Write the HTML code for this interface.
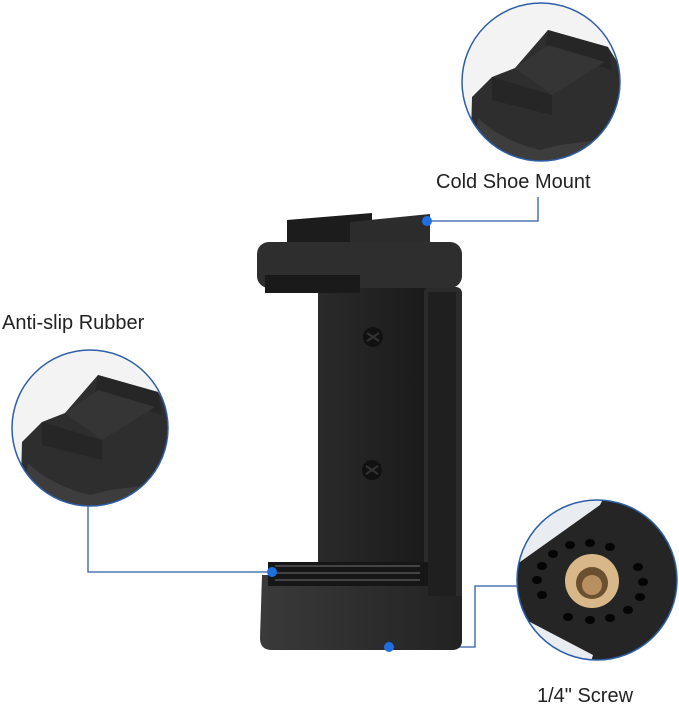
<!DOCTYPE html>
<html><head><style>
body{margin:0;background:#fff;}
svg{display:block}
text{font-family:"Liberation Sans",sans-serif;font-size:20px;fill:#222}
</style></head><body>
<svg width="679" height="710" viewBox="0 0 679 710">
<defs>
<linearGradient id="g1" x1="0" x2="1"><stop offset="0" stop-color="#2a2a2a"/><stop offset="1" stop-color="#1a1a1a"/></linearGradient>
<linearGradient id="g2" x1="0" x2="1"><stop offset="0" stop-color="#3a3a3a"/><stop offset="1" stop-color="#222"/></linearGradient>
<clipPath id="c1"><circle cx="541" cy="82" r="79"/></clipPath>
<clipPath id="c2"><circle cx="90" cy="428" r="78"/></clipPath>
<clipPath id="c3"><circle cx="597" cy="580" r="80"/></clipPath>
<g id="shoe">
<rect x="455" y="0" width="170" height="170" fill="#f3f3f3"/>
<path d="M472 97 L492 77 L515 68 L548 30 L608 47 L618 63 L625 110 L625 170 L470 170 Z" fill="#2e2e2e"/>
<path d="M478 118 Q500 140 540 150 L560 145 L600 140 L625 130 L625 170 L470 170 Z" fill="#3d3d3d"/>
<path d="M492 77 L552 95 L552 115 L492 100 Z" fill="#262626"/>
<path d="M548 30 L608 47 L612 70 L545 50 Z" fill="#262626"/>
<path d="M515 68 L548 45 L605 62 L552 95 Z" fill="#353535"/>
</g>
</defs>
<rect width="679" height="710" fill="#fff"/>
<!-- connectors -->
<g stroke="#2d5ea8" stroke-width="1.3" fill="none">
<polyline points="427,221 538,221 538,197"/>
<polyline points="88,506 88,572 272,572"/>
<polyline points="389,647 475,647 475,586 517,586"/>
</g>
<!-- product -->
<rect x="318" y="288" width="110" height="300" fill="url(#g1)"/>
<rect x="424" y="287" width="38" height="360" rx="6" fill="#2b2b2b"/>
<rect x="428" y="292" width="28" height="348" fill="#1f1f1f"/>
<path d="M262 575 L428 575 L428 596 L462 596 L462 640 Q462 650 452 650 L272 650 Q260 650 260 638 Z" fill="url(#g2)"/>
<rect x="268" y="562" width="160" height="24" fill="#161616"/>
<g stroke="#444" stroke-width="2">
<line x1="275" y1="566" x2="420" y2="566"/><line x1="275" y1="573" x2="420" y2="573"/><line x1="275" y1="580" x2="420" y2="580"/>
</g>
<path d="M287 220 L372 213 L372 243 L287 243 Z" fill="#1c1c1c"/>
<path d="M350 222 L430 214 L430 245 L350 245 Z" fill="#2c2c2c"/>
<rect x="257" y="242" width="205" height="46" rx="12" fill="#2e2e2e"/>
<rect x="265" y="275" width="95" height="18" fill="#1a1a1a"/>
<circle cx="373" cy="337" r="10" fill="#111"/><path d="M367 333 L379 341 M379 333 L367 341" stroke="#333" stroke-width="2"/>
<circle cx="372" cy="470" r="10" fill="#111"/><path d="M366 466 L378 474 M378 466 L366 474" stroke="#333" stroke-width="2"/>
<!-- dots -->
<g fill="#1f6fe0">
<circle cx="427" cy="221" r="5"/><circle cx="272" cy="572" r="5"/><circle cx="389" cy="647" r="5"/>
</g>
<!-- circle contents -->
<g clip-path="url(#c1)"><use href="#shoe"/></g>
<g clip-path="url(#c2)"><use href="#shoe" transform="translate(-450,345)"/></g>
<g clip-path="url(#c3)">
<rect x="510" y="495" width="170" height="170" fill="#252525"/>
<path d="M510 495 L605 495 L600 505 L520 562 L510 565 Z" fill="#e9edf1"/>
<path d="M510 615 L530 622 L593 655 L590 665 L510 665 Z" fill="#e9edf1"/>
<g fill="#050505">
<ellipse cx="570" cy="545" rx="5" ry="4"/><ellipse cx="590" cy="543" rx="5" ry="4"/><ellipse cx="610" cy="547" rx="5" ry="4"/><ellipse cx="553" cy="554" rx="5" ry="4"/><ellipse cx="542" cy="566" rx="5" ry="4"/><ellipse cx="537" cy="580" rx="5" ry="4"/><ellipse cx="542" cy="595" rx="5" ry="4"/><ellipse cx="568" cy="617" rx="5" ry="4"/><ellipse cx="590" cy="620" rx="5" ry="4"/><ellipse cx="610" cy="618" rx="5" ry="4"/><ellipse cx="628" cy="610" rx="5" ry="4"/><ellipse cx="640" cy="597" rx="5" ry="4"/><ellipse cx="643" cy="582" rx="5" ry="4"/><ellipse cx="638" cy="567" rx="5" ry="4"/>
</g>
<circle cx="592" cy="581" r="27" fill="#d8b888"/>
<circle cx="592" cy="583" r="16" fill="#6b5030"/>
<circle cx="592" cy="585" r="10" fill="#b89060"/>
</g>
<g stroke="#2d5ea8" stroke-width="1.5" fill="none">
<circle cx="541" cy="82" r="79"/>
<circle cx="90" cy="428" r="78"/>
<circle cx="597" cy="580" r="80"/>
</g>
<!-- labels -->
<text x="436" y="188">Cold Shoe Mount</text>
<text x="2" y="329">Anti-slip Rubber</text>
<text x="537" y="702">1/4" Screw</text>
</svg>
</body></html>
